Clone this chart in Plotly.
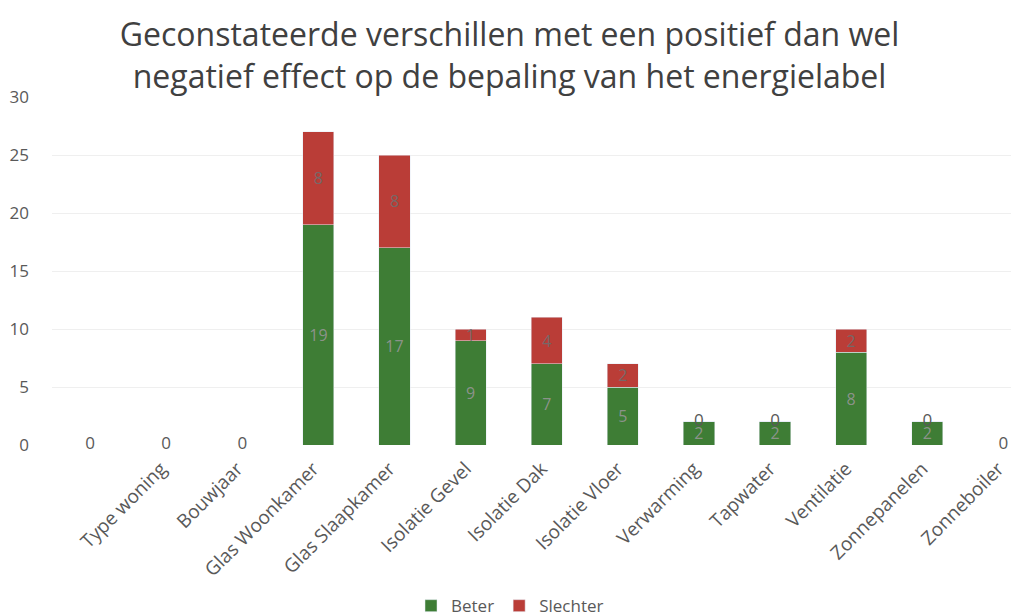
import plotly.graph_objects as go

categories = [" ", "Type woning", "Bouwjaar", "Glas Woonkamer", "Glas Slaapkamer",
              "Isolatie Gevel", "Isolatie Dak", "Isolatie Vloer", "Verwarming",
              "Tapwater", "Ventilatie", "Zonnepanelen", "Zonneboiler"]
beter = [0, 0, 0, 19, 17, 9, 7, 5, 2, 2, 8, 2, 0]
slechter = [0, 0, 0, 8, 8, 1, 4, 2, 0, 0, 2, 0, 0]
y_ticks = [0, 5, 10, 15, 20, 25, 30]

title_text = ("Geconstateerde verschillen met een positief dan wel<br>"
              "negatief effect op de bepaling van het energielabel")

GREEN = "#3e7d35"
RED = "#ba3d37"
FONT = "Open Sans"
GRAY = "#595959"

fig = go.Figure()
fig.add_trace(go.Bar(
    name="Beter", x=categories, y=beter, marker_color=GREEN,
    text=[str(v) if v else "" for v in beter], textposition="inside",
    insidetextanchor="middle", textangle=0, constraintext="none",
    textfont=dict(family=FONT, size=16, color="rgba(150,150,150,0.9)"),
))
fig.add_trace(go.Bar(
    name="Slechter", x=categories, y=slechter, marker_color=RED,
    text=[str(v) if v else "" for v in slechter], textposition="inside",
    insidetextanchor="middle", textangle=0, constraintext="none",
    textfont=dict(family=FONT, size=16, color="rgba(110,110,110,0.9)"),
))

# zero-value data labels (drawn at the top of the stack, as in the original)
zx, zy = [], []
for c, b, s in zip(categories, beter, slechter):
    if s == 0:
        zx.append(c)
        zy.append(b + s)
fig.add_trace(go.Scatter(
    x=zx, y=zy, mode="text", text=["0"] * len(zx), textposition="middle center",
    textfont=dict(family=FONT, size=17, color=GRAY), showlegend=False,
    hoverinfo="skip", cliponaxis=False,
))

fig.update_layout(
    barmode="stack",
    bargap=0.59,
    width=1011, height=616,
    margin=dict(l=52, r=0, t=97, b=171, autoexpand=False),
    paper_bgcolor="white", plot_bgcolor="white",
    title=dict(text=title_text, x=0.504, xanchor="center", y=0.9253, yanchor="middle",
               font=dict(family=FONT, size=32, color="#404040"), automargin=False),
    legend=dict(orientation="h", x=0.4776, xanchor="center", y=-0.463, yanchor="middle",
                font=dict(family=FONT, size=17, color=GRAY), traceorder="normal",
                itemwidth=30),
    font=dict(family=FONT, color=GRAY),
)
fig.update_xaxes(
    type="category", range=[-0.5, 12.1], tickangle=-45, automargin=False,
    tickfont=dict(family=FONT, size=19, color=GRAY),
    ticklabelstandoff=8, ticklabelshift=-5,
    showline=False, showgrid=False, zeroline=False, ticks="",
)
fig.update_yaxes(
    range=[0, 30], tickvals=y_ticks, ticklabelstandoff=22, automargin=False,
    tickfont=dict(family=FONT, size=17, color=GRAY),
    showgrid=True, gridcolor="#efefef", zeroline=False, showline=False,
)

fig.write_html(
    "out.html",
    config={"displayModeBar": False},
    post_script="document.body.style.margin='0';document.body.style.overflow='hidden';",
)
